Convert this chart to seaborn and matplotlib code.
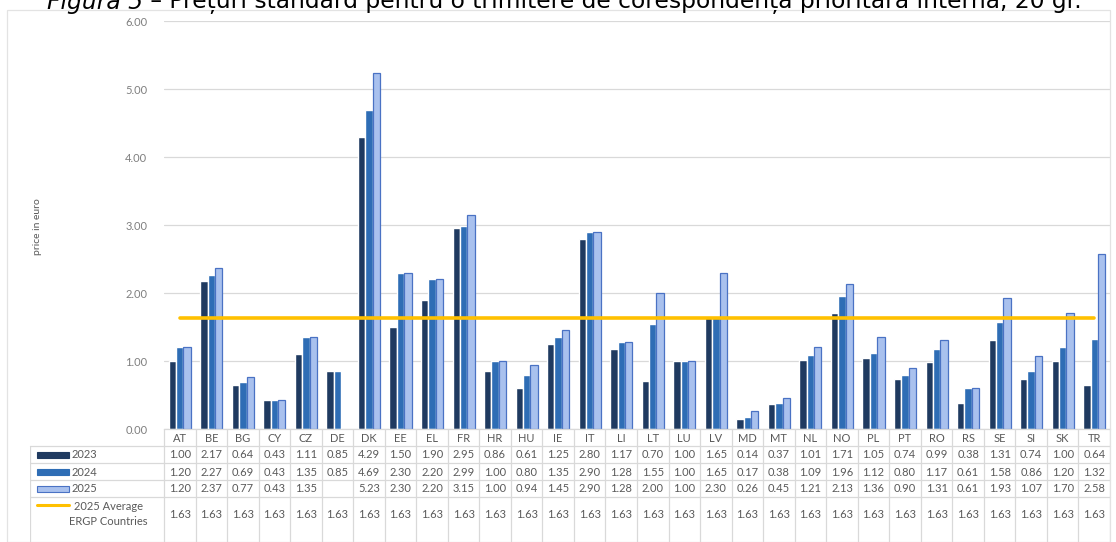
import numpy as np
import pandas as pd
import matplotlib
matplotlib.use('Agg')
import matplotlib.pyplot as plt
from matplotlib.patches import Rectangle
import seaborn as sns

countries = ['AT', 'BE', 'BG', 'CY', 'CZ', 'DE', 'DK', 'EE', 'EL', 'FR', 'HR', 'HU', 'IE', 'IT', 'LI',
             'LT', 'LU', 'LV', 'MD', 'MT', 'NL', 'NO', 'PL', 'PT', 'RO', 'RS', 'SE', 'SI', 'SK', 'TR']
years = ['2023', '2024', '2025']
p2023 = [1.00, 2.17, 0.64, 0.43, 1.11, 0.85, 4.29, 1.50, 1.90, 2.95, 0.86, 0.61, 1.25, 2.80, 1.17,
         0.70, 1.00, 1.65, 0.14, 0.37, 1.01, 1.71, 1.05, 0.74, 0.99, 0.38, 1.31, 0.74, 1.00, 0.64]
p2024 = [1.20, 2.27, 0.69, 0.43, 1.35, 0.85, 4.69, 2.30, 2.20, 2.99, 1.00, 0.80, 1.35, 2.90, 1.28,
         1.55, 1.00, 1.65, 0.17, 0.38, 1.09, 1.96, 1.12, 0.80, 1.17, 0.61, 1.58, 0.86, 1.20, 1.32]
p2025 = [1.20, 2.37, 0.77, 0.43, 1.35, np.nan, 5.23, 2.30, 2.20, 3.15, 1.00, 0.94, 1.45, 2.90, 1.28,
         2.00, 1.00, 2.30, 0.26, 0.45, 1.21, 2.13, 1.36, 0.90, 1.31, 0.61, 1.93, 1.07, 1.70, 2.58]
avg2025 = [1.63] * len(countries)
y_ticks = [0, 1, 2, 3, 4, 5, 6]

colors = ['#1f3a60', '#2e6db5', '#a9c1ee']
edge25 = '#4a72c4'
yellow = '#ffc000'
grid_c = '#d9d9d9'
txt_c = '#595959'

df = pd.DataFrame({'country': countries * 3,
                   'year': [y for y in years for _ in countries],
                   'price': p2023 + p2024 + p2025})

sns.set_theme(style='white')
plt.rcParams['font.family'] = ['Lato', 'DejaVu Sans']

W, H = 1116, 542
fig = plt.figure(figsize=(W / 100, H / 100), dpi=100)

# main plot area (pixel layout of the reference)
left_px, right_px, top_px, base_px = 164, 1110, 21, 429
ax = fig.add_axes([left_px / W, (H - base_px) / H, (right_px - left_px) / W, (base_px - top_px) / H])
sns.barplot(data=df, x='country', y='price', hue='year', order=countries, hue_order=years,
            palette=colors, saturation=1, width=0.7, legend=False, ax=ax)
for bar in ax.containers[2]:
    bar.set_edgecolor(edge25)
    bar.set_linewidth(0.9)

sns.lineplot(x=np.arange(len(countries)), y=avg2025, color=yellow, linewidth=2.6, ax=ax)

ax.set_xlim(-0.5, len(countries) - 0.5)
ax.set_ylim(0, 6)
ax.set_yticks(y_ticks)
ax.set_yticklabels(['%.2f' % v for v in y_ticks], fontsize=8, color='#7f7f7f')
ax.tick_params(axis='y', length=0, pad=12)
ax.set_xticks([])
ax.set_xlabel('')
ax.set_ylabel('')
ax.yaxis.grid(True, color=grid_c, linewidth=0.9)
ax.set_axisbelow(True)
for s in ['left', 'right', 'top']:
    ax.spines[s].set_visible(False)
ax.spines['bottom'].set_color(grid_c)
ax.spines['bottom'].set_linewidth(0.9)

fig.text(38 / W, 1 - 227 / H, 'price in euro', rotation=90, ha='center', va='center',
         fontsize=7.5, color=txt_c)

# data table below the bars
tab_left = 30
cat_w = (right_px - left_px) / len(countries)
tab = fig.add_axes([tab_left / W, 0, (right_px - tab_left) / W, (H - base_px) / H])
tab.set_xlim(-0.5 - (left_px - tab_left) / cat_w, len(countries) - 0.5)
tab.set_ylim(H, base_px)
tab.axis('off')
x0 = -0.5 - (left_px - tab_left) / cat_w
row_lines = [446, 463, 480, 497]
for yl in row_lines:
    tab.plot([x0, len(countries) - 0.5], [yl, yl], color=grid_c, lw=0.9, clip_on=False)
tab.plot([x0, x0], [row_lines[0], H], color=grid_c, lw=0.9)
for k in range(len(countries) + 1):
    tab.plot([k - 0.5, k - 0.5], [base_px, H], color=grid_c, lw=0.9)

rows_y = [455, 472, 489]
for i, c in enumerate(countries):
    tab.text(i, 438, c, ha='center', va='center', fontsize=8, color=txt_c)
    for vals, ry in zip([p2023, p2024, p2025], rows_y):
        if not np.isnan(vals[i]):
            tab.text(i, ry, '%.2f' % vals[i], ha='center', va='center', fontsize=8, color=txt_c)
    tab.text(i, 514, '%.2f' % avg2025[i], ha='center', va='center', fontsize=8, color=txt_c)

sw_l = x0 + 7 / cat_w
sw_w = 32 / cat_w
for yr, col, ry in zip(years, colors, rows_y):
    tab.add_patch(Rectangle((sw_l, ry - 3), sw_w, 6, facecolor=col,
                            edgecolor=edge25 if yr == '2025' else col, lw=0.8))
    tab.text(sw_l + sw_w + 3 / cat_w, ry, yr, ha='left', va='center', fontsize=8, color=txt_c)
tab.plot([sw_l, sw_l + sw_w], [505, 505], color=yellow, lw=2.2)
tab.text(x0 + 78 / cat_w, 514, '2025 Average\nERGP Countries', ha='center', va='center',
         fontsize=8, color=txt_c, linespacing=1.45)

# outer frame
fig.add_artist(Rectangle((7 / W, 0), (1110 - 7) / W, 1 - 10 / H, transform=fig.transFigure,
                         fill=False, edgecolor='#e3e3e3', lw=0.9))

# title (cut at the top edge, as in the reference)
t1 = fig.text(47 / W, 1 - 14.5 / H, 'Figura 5', fontsize=16.8, style='italic', va='bottom',
              family='DejaVu Sans', color='black')
t2 = plt.Annotation(' \u2013 Prețuri standard pentru o trimitere de corespondență prioritară internă, 20 gr.',
                    xy=(1, 0), xycoords=t1, va='bottom', ha='left', fontsize=16.8,
                    family='DejaVu Sans', color='black', annotation_clip=False)
fig.add_artist(t2)

fig.savefig('out.png', dpi=100)
